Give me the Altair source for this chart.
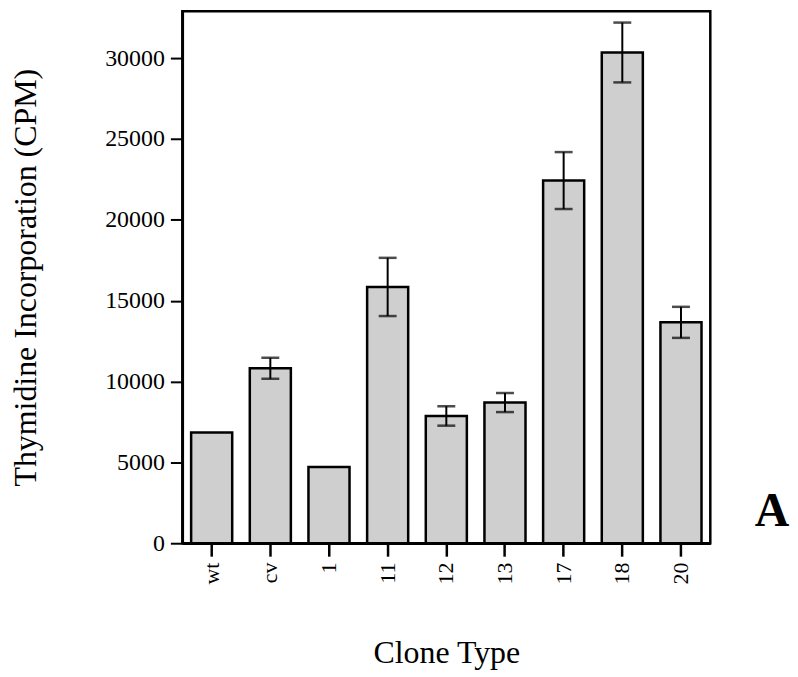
import altair as alt
import pandas as pd

clones = ["wt", "cv", "1", "11", "12", "13", "17", "18", "20"]
cpm = [6850, 10820, 4720, 15850, 7870, 8700, 22430, 30350, 13660]
err = [0, 650, 0, 1800, 600, 590, 1760, 1850, 960]
y_ticks = [0, 5000, 10000, 15000, 20000, 25000, 30000]

df = pd.DataFrame({"clone": clones, "cpm": cpm, "err": err})
df["lo"] = df["cpm"] - df["err"]
df["hi"] = df["cpm"] + df["err"]
df_err = df[df["err"] > 0]

FONT = "Liberation Serif"

x = alt.X(
    "clone:N",
    sort=clones,
    scale=alt.Scale(paddingInner=0.3, paddingOuter=0.15),
    axis=alt.Axis(
        title="Clone Type",
        titleFont=FONT,
        titleFontSize=32,
        titleFontWeight="normal",
        titleColor="black",
        titlePadding=54,
        labelFont=FONT,
        labelFontSize=22,
        labelColor="black",
        labelAngle=270,
        labelAlign="right",
        labelBaseline="middle",
        labelPadding=6,
        tickSize=13,
        tickWidth=2.5,
        tickColor="black",
        domainColor="black",
        domainWidth=2.5,
    ),
)

y_scale = alt.Scale(domain=[0, 32900], nice=False)
y_axis = alt.Axis(
    title="Thymidine Incorporation (CPM)",
    titleFont=FONT,
    titleFontSize=32,
    titleFontWeight="normal",
    titleColor="black",
    titlePadding=62,
    values=y_ticks,
    format="d",
    labelFont=FONT,
    labelFontSize=24,
    labelColor="black",
    labelPadding=6,
    tickSize=12,
    tickWidth=2,
    tickColor="black",
    domainColor="black",
    domainWidth=2.5,
    grid=False,
)

bars = alt.Chart(df).mark_bar(
    fill="#cfcfcf", stroke="black", strokeWidth=2.5
).encode(
    x=x,
    y=alt.Y("cpm:Q", scale=y_scale, axis=y_axis),
)

rules = alt.Chart(df_err).mark_rule(color="black", strokeWidth=2).encode(
    x=alt.X("clone:N", sort=clones),
    y=alt.Y("lo:Q", scale=y_scale),
    y2="hi:Q",
)

cap_hi = alt.Chart(df_err).mark_tick(color="black", thickness=2.5, size=18).encode(
    x=alt.X("clone:N", sort=clones),
    y=alt.Y("hi:Q", scale=y_scale),
)
cap_lo = alt.Chart(df_err).mark_tick(color="black", thickness=2.5, size=18).encode(
    x=alt.X("clone:N", sort=clones),
    y=alt.Y("lo:Q", scale=y_scale),
)

label_a = alt.Chart(pd.DataFrame({"t": ["A"]})).mark_text(
    font=FONT, fontSize=48, fontWeight="bold", color="black",
    align="center", baseline="middle",
).encode(
    text="t:N",
    x=alt.value(592),
    y=alt.value(503),
)

chart = alt.layer(bars, rules, cap_hi, cap_lo, label_a).properties(
    width=530,
    height=534,
    background="white",
    autosize=alt.AutoSizeParams(type="none"),
    padding={"left": 175, "top": 2, "right": 80, "bottom": 128},
).configure_view(
    stroke="black", strokeWidth=2.5
)

chart.save("out.html", embed_options={"renderer": "svg", "actions": False})
